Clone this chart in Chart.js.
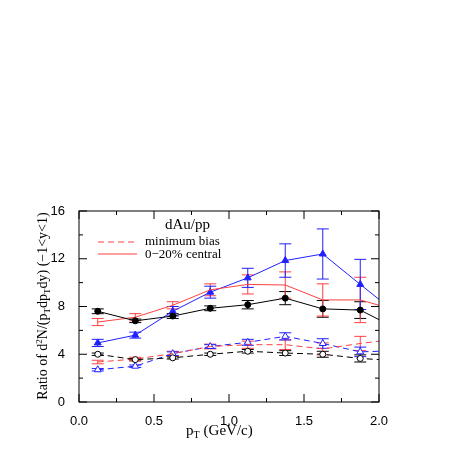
<!DOCTYPE html>
<html lang="en">
<head>
<meta charset="UTF-8">
<title>dAu/pp ratio</title>
<script src="https://cdn.jsdelivr.net/npm/chart.js"></script>
<style>
  html, body { margin: 0; background: #fff; }
  #wrap { width: 457px; height: 457px; }
</style>
</head>
<body>
<div id="wrap"><canvas id="ratioChart"></canvas></div>
<script>
  const ptBins = [0.125, 0.375, 0.625, 0.875, 1.125, 1.375, 1.625, 1.875, 2.0];
  const xTicks = [0, 0.5, 1.0, 1.5, 2.0];
  const yTicks = [0, 4, 8, 12, 16];

  const blackCentral = [7.6, 6.8, 7.2, 7.85, 8.15, 8.7, 7.8, 7.7, 6.9];
  const blackCentralErr = [0.2, 0.15, 0.2, 0.2, 0.35, 0.55, 0.7, 0.7, 0];
  const redCentral = [6.7, 7.1, 8.1, 9.4, 9.85, 9.8, 8.55, 8.55, 8.1];
  const redCentralErr = [0.3, 0.3, 0.3, 0.5, 0.8, 1.1, 1.35, 1.9, 0];
  const blueCentral = [4.95, 5.6, 7.6, 9.2, 10.4, 11.85, 12.4, 9.85, 8.6];
  const blueCentralErr = [0.3, 0.25, 0.4, 0.5, 0.8, 1.4, 2.1, 2.1, 0];

  const blackMinBias = [4.0, 3.55, 3.7, 4.0, 4.25, 4.1, 4.0, 3.65, 3.55];
  const blackMinBiasErr = [0.1, 0.1, 0.1, 0.1, 0.15, 0.2, 0.25, 0.3, 0];
  const redMinBias = [3.35, 3.6, 4.05, 4.65, 4.8, 4.8, 4.45, 4.9, 5.1];
  const redMinBiasErr = [0.15, 0.15, 0.2, 0.2, 0.3, 0.4, 0.5, 0.6, 0];
  const blueMinBias = [2.7, 3.0, 4.05, 4.65, 5.0, 5.5, 4.9, 4.2, 4.25];
  const blueMinBiasErr = [0.1, 0.1, 0.15, 0.15, 0.25, 0.3, 0.4, 0.4, 0];

  const RED = '#ff4040', BLUE = '#2020ff', BLACK = '#000';
  const last = ptBins.length - 1;

  function series(vals, errs, color, dashed, style, filled) {
    return {
      data: vals.map((v, i) => ({ x: ptBins[i], y: v })),
      errs: errs,
      borderColor: color,
      backgroundColor: filled ? color : '#fff',
      borderWidth: 1,
      borderDash: dashed ? [6, 4] : [],
      pointStyle: style,
      pointRadius: vals.map((_, i) => (style && i < last) ? (style === 'triangle' ? 4 : 3) : 0),
      pointBorderColor: color,
      pointBorderWidth: 1,
      tension: 0,
      clip: 0
    };
  }

  const datasets = [
    series(blackCentral, blackCentralErr, BLACK, false, 'circle', true),
    series(redCentral, redCentralErr, RED, false, null, true),
    series(blueCentral, blueCentralErr, BLUE, false, 'triangle', true),
    series(blackMinBias, blackMinBiasErr, BLACK, true, 'circle', false),
    series(redMinBias, redMinBiasErr, RED, true, null, false),
    series(blueMinBias, blueMinBiasErr, BLUE, true, 'triangle', false)
  ];

  const serif = '"Liberation Serif", "DejaVu Serif", serif';
  const sans = '"Liberation Sans", Arial, sans-serif';

  const decor = {
    id: 'decor',
    beforeDatasetsDraw(chart) {
      const { ctx, scales: { x, y } } = chart;
      ctx.save();
      chart.data.datasets.forEach(ds => {
        ctx.strokeStyle = ds.borderColor;
        ctx.lineWidth = 1;
        ds.data.forEach((p, i) => {
          const e = ds.errs[i];
          if (!e) return;
          const px = x.getPixelForValue(p.x);
          const top = y.getPixelForValue(p.y + e), bot = y.getPixelForValue(p.y - e);
          ctx.beginPath();
          ctx.moveTo(px, top); ctx.lineTo(px, bot);
          ctx.moveTo(px - 6, top); ctx.lineTo(px + 6, top);
          ctx.moveTo(px - 6, bot); ctx.lineTo(px + 6, bot);
          ctx.stroke();
        });
      });
      ctx.restore();
    },
    afterDraw(chart) {
      const { ctx, chartArea: a, scales: { x, y } } = chart;
      ctx.save();
      ctx.strokeStyle = '#000';
      ctx.lineWidth = 1;
      ctx.strokeRect(a.left, a.top, a.right - a.left, a.bottom - a.top);
      ctx.beginPath();
      for (let v = 0; v <= 2.0001; v += 0.25) {
        const px = x.getPixelForValue(v), len = Math.abs(v * 2 - Math.round(v * 2)) < 1e-6 ? 8 : 4;
        ctx.moveTo(px, a.bottom); ctx.lineTo(px, a.bottom - len);
        ctx.moveTo(px, a.top); ctx.lineTo(px, a.top + len);
      }
      for (let v = 0; v <= 16; v += 2) {
        const py = y.getPixelForValue(v), len = v % 4 === 0 ? 8 : 4;
        ctx.moveTo(a.left, py); ctx.lineTo(a.left + len, py);
        ctx.moveTo(a.right, py); ctx.lineTo(a.right - len, py);
      }
      ctx.stroke();

      // legend
      ctx.fillStyle = '#000';
      ctx.font = '15px ' + serif;
      ctx.textBaseline = 'middle';
      ctx.fillText('dAu/pp', 165, 225);
      ctx.font = '13px ' + serif;
      ctx.strokeStyle = RED;
      ctx.setLineDash([6, 4]);
      ctx.beginPath(); ctx.moveTo(98, 242); ctx.lineTo(137, 242); ctx.stroke();
      ctx.setLineDash([]);
      ctx.beginPath(); ctx.moveTo(98, 254); ctx.lineTo(137, 254); ctx.stroke();
      ctx.fillText('minimum bias', 145, 242);
      ctx.fillText('0\u221220% central', 145, 255);

      // x title with subscript
      ctx.font = '15px ' + serif;
      ctx.textBaseline = 'alphabetic';
      let tx = 186, ty = 435;
      ctx.fillText('p', tx, ty); tx += ctx.measureText('p').width;
      ctx.font = '10px ' + serif; ctx.fillText('T', tx, ty + 3); tx += ctx.measureText('T').width + 4;
      ctx.font = '15px ' + serif; ctx.fillText('(GeV/c)', tx, ty);

      // y title, rotated
      ctx.translate(42, 306);
      ctx.rotate(-Math.PI / 2);
      const parts = [['Ratio of d', 14, 0], ['2', 9, -5], ['N/(p', 14, 0], ['T', 9, 3], ['dp', 14, 0], ['T', 9, 3], ['dy) (\u22121<y<1)', 14, 0]];
      let total = 0;
      parts.forEach(p => { ctx.font = p[1] + 'px ' + serif; total += ctx.measureText(p[0]).width; });
      let cx = -total / 2;
      parts.forEach(p => {
        ctx.font = p[1] + 'px ' + serif;
        ctx.fillText(p[0], cx, 5 + p[2]);
        cx += ctx.measureText(p[0]).width;
      });
      ctx.restore();
    }
  };

  new Chart(document.getElementById('ratioChart'), {
    type: 'line',
    data: { datasets },
    plugins: [decor],
    options: {
      responsive: true,
      maintainAspectRatio: false,
      animation: false,
      layout: { padding: { top: 211, right: 78, left: 0, bottom: 0 } },
      plugins: { legend: { display: false }, tooltip: { enabled: false } },
      scales: {
        x: {
          type: 'linear', min: 0, max: 2.0,
          grid: { display: false },
          border: { display: false },
          afterBuildTicks: s => { s.ticks = xTicks.map(v => ({ value: v })); },
          afterFit: s => { s.height = 55; },
          ticks: { color: '#000', font: { family: sans, size: 13 }, padding: 4, callback: v => v.toFixed(1) }
        },
        y: {
          min: 0, max: 16,
          grid: { display: false },
          border: { display: false },
          afterBuildTicks: s => { s.ticks = yTicks.map(v => ({ value: v })); },
          afterFit: s => { s.width = 79; },
          ticks: { color: '#000', font: { family: sans, size: 13 }, padding: 6 }
        }
      }
    }
  });
</script>
</body>
</html>
